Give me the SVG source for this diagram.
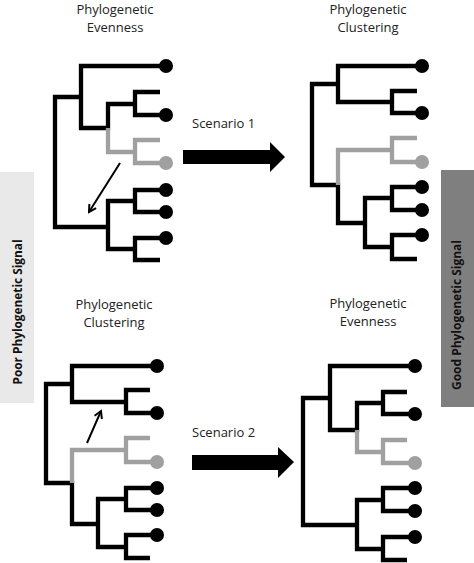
<svg xmlns="http://www.w3.org/2000/svg" width="474" height="563" viewBox="0 0 474 563">
<style>
.br{fill:none;stroke:#000;stroke-width:4.3;stroke-linejoin:miter;stroke-linecap:butt}
.gr{fill:none;stroke:#a0a0a0;stroke-width:4.3;stroke-linejoin:miter;stroke-linecap:butt}
.dk{fill:#000}
.lg{fill:#a0a0a0}
.t{font-family:"Open Sans","Liberation Sans",sans-serif;font-size:13px;fill:#222;text-anchor:middle}
.s{font-family:"Open Sans","Liberation Sans",sans-serif;font-size:13px;fill:#222}
.side{font-family:"Open Sans","Liberation Sans",sans-serif;font-size:13px;font-weight:bold;fill:#111;text-anchor:middle}
.thin{fill:none;stroke:#000;stroke-width:2}
</style>
<defs>
<marker id="ah" markerWidth="10" markerHeight="10" refX="8" refY="5" orient="auto" markerUnits="userSpaceOnUse">
<path d="M1,1 L8,5 L1,9" fill="none" stroke="#000" stroke-width="2"/>
</marker>
</defs>
<rect width="474" height="563" fill="#fff"/>

<g id="poor-signal">
<rect x="0" y="172" width="34" height="231" fill="#e9e9e9"/>
<text class="side" transform="translate(22,312) rotate(-90)" textLength="145" lengthAdjust="spacingAndGlyphs">Poor Phylogenetic Signal</text>
</g>
<g id="good-signal">
<rect x="441" y="170" width="33" height="237" fill="#7f7f7f"/>
<text class="side" transform="translate(461,315) rotate(-90)" textLength="150" lengthAdjust="spacingAndGlyphs">Good Phylogenetic Signal</text>
</g>

<g id="title-tl"><text class="t" x="115" y="14">Phylogenetic</text><text class="t" x="115" y="32">Evenness</text></g>
<g id="title-tr"><text class="t" x="368" y="14">Phylogenetic</text><text class="t" x="368" y="32">Clustering</text></g>
<g id="title-bl"><text class="t" x="114" y="309">Phylogenetic</text><text class="t" x="114" y="327">Clustering</text></g>
<g id="title-br"><text class="t" x="368" y="308">Phylogenetic</text><text class="t" x="368" y="326">Evenness</text></g>

<g id="tree-tl">
<path class="br" d="M81,97 H55 V227 H108 M166,66 H81 V128 H108 V104 H135 M160,92 H135 V115 H166 M166,190 H135 V212 H166 M135,201 H108 V249 H135 M166,238 H135 V260 H160"/>
<path class="gr" d="M108,128 V152 H135 M160,140 H135 V163 H166"/>
<circle class="dk" cx="166" cy="66" r="7"/><circle class="dk" cx="166" cy="115" r="7"/><circle class="lg" cx="166" cy="163" r="7"/>
<circle class="dk" cx="166" cy="190" r="7"/><circle class="dk" cx="166" cy="212" r="7"/><circle class="dk" cx="166" cy="238" r="7"/>
</g>

<g id="tree-tr">
<path class="br" d="M422,66 H338 V102 H392 M417,91 H392 V113 H422 M338,84 H312 V185 H338 V223 H365 M392,198 H365 V247 H392 M422,187 H392 V210 H422 M422,235 H392 V259 H417"/>
<path class="gr" d="M338,185 V150 H392 M417,138 H392 V162 H422"/>
<circle class="dk" cx="422" cy="66" r="7"/><circle class="dk" cx="422" cy="113" r="7"/><circle class="lg" cx="422" cy="162" r="7"/>
<circle class="dk" cx="422" cy="187" r="7"/><circle class="dk" cx="422" cy="210" r="7"/><circle class="dk" cx="422" cy="235" r="7"/>
</g>

<g id="tree-bl">
<path class="br" d="M157,366 H72 V402 H126 M150,390 H126 V413 H157 M72,384 H46 V483 H72 V524 H98 M126,499 H98 V547 H126 M157,488 H126 V510 H157 M157,535 H126 V558 H150"/>
<path class="gr" d="M72,483 V450 H126 M150,438 H126 V462 H157"/>
<circle class="dk" cx="157" cy="366" r="7"/><circle class="dk" cx="157" cy="413" r="7"/><circle class="lg" cx="157" cy="462" r="7"/>
<circle class="dk" cx="157" cy="488" r="7"/><circle class="dk" cx="157" cy="510" r="7"/><circle class="dk" cx="157" cy="535" r="7"/>
</g>

<g id="tree-br">
<path class="br" d="M415,366 H330 V430 H357 V403 H383 M407,392 H383 V414 H415 M330,398 H303 V525 H357 M383,500 H357 V549 H383 M415,488 H383 V511 H415 M415,537 H383 V560 H407"/>
<path class="gr" d="M357,430 V452 H383 M407,440 H383 V463 H415"/>
<circle class="dk" cx="415" cy="366" r="7"/><circle class="dk" cx="415" cy="414" r="7"/><circle class="lg" cx="415" cy="463" r="7"/>
<circle class="dk" cx="415" cy="488" r="7"/><circle class="dk" cx="415" cy="511" r="7"/><circle class="dk" cx="415" cy="537" r="7"/>
</g>

<g id="scenario-1-label"><text class="s" x="192" y="128">Scenario 1</text></g>
<g id="scenario-2-label"><text class="s" x="192" y="437">Scenario 2</text></g>

<g id="connectors">
<line class="thin" x1="120" y1="163" x2="89" y2="212" marker-end="url(#ah)"/>
<line class="thin" x1="87" y1="443" x2="101" y2="411" marker-end="url(#ah)"/>
<path class="dk" d="M183,150 H270 V142 L285,157 L270,172 V164 H183 Z"/>
<path class="dk" d="M192,455 H278 V447 L294,462 L278,478 V470 H192 Z"/>
</g>
</svg>
